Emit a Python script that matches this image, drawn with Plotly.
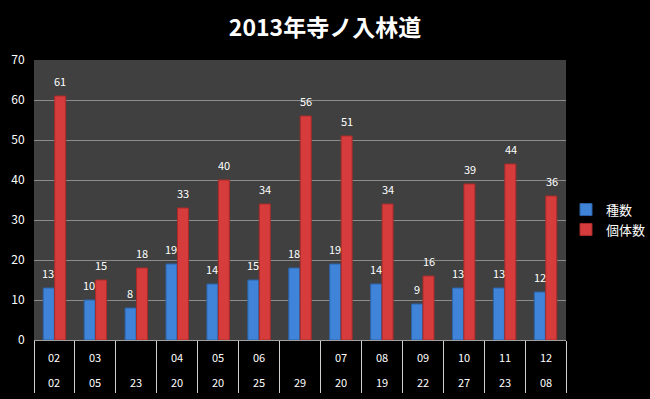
import plotly.graph_objects as go

months = ["02", "03", "", "04", "05", "06", "", "07", "08", "09", "10", "11", "12"]
days = ["02", "05", "23", "20", "20", "25", "29", "20", "19", "22", "27", "23", "08"]
species = [13, 10, 8, 19, 14, 15, 18, 19, 14, 9, 13, 13, 12]
individuals = [61, 15, 18, 33, 40, 34, 56, 51, 34, 16, 39, 44, 36]
series_names = ["種数", "個体数"]
title_text = "2013年寺ノ入林道"

cats = [f"{m}/{d}#{i}" for i, (m, d) in enumerate(zip(months, days))]

FONT = "Noto Sans CJK JP"
BLUE = "#3f84d8"
RED = "#d63c3c"

fig = go.Figure()
fig.add_trace(go.Bar(x=cats, y=species, name=series_names[0],
                     marker=dict(color=BLUE, line=dict(color="#2b62a8", width=1))))
fig.add_trace(go.Bar(x=cats, y=individuals, name=series_names[1],
                     marker=dict(color=RED, line=dict(color="#a82a2a", width=1))))

annotations = []
for c, v in zip(cats, species):
    annotations.append(dict(x=c, y=v, xref="x", yref="y", text=str(v), showarrow=False,
                            xshift=-6, yshift=5, yanchor="bottom",
                            font=dict(color="white", size=11, family=FONT)))
for c, v in zip(cats, individuals):
    annotations.append(dict(x=c, y=v, xref="x", yref="y", text=str(v), showarrow=False,
                            xshift=6, yshift=5, yanchor="bottom",
                            font=dict(color="white", size=11, family=FONT)))
for c, m in zip(cats, months):
    annotations.append(dict(x=c, y=-17 / 280, xref="x", yref="paper", text=m, showarrow=False,
                            yanchor="middle", font=dict(color="white", size=11, family=FONT)))
for c, d in zip(cats, days):
    annotations.append(dict(x=c, y=-42 / 280, xref="x", yref="paper", text=d, showarrow=False,
                            yanchor="middle", font=dict(color="white", size=11, family=FONT)))

fig.update_layout(
    width=650, height=399,
    margin=dict(l=34, r=84, t=60, b=59, autoexpand=False),
    paper_bgcolor="black",
    plot_bgcolor="#404040",
    barmode="group",
    bargap=0.44,
    bargroupgap=0.04,
    title=dict(text="<b>" + title_text + "</b>", x=0.5, xref="container", y=1 - 28 / 399,
               yanchor="middle", xanchor="center",
               font=dict(color="white", size=23, family=FONT)),
    legend=dict(x=1.0, y=0.43, xanchor="left", yanchor="middle",
                font=dict(color="white", size=13, family=FONT),
                bgcolor="rgba(0,0,0,0)", itemwidth=30, tracegroupgap=6),
    annotations=annotations,
    showlegend=True,
)
fig.update_xaxes(type="category", showticklabels=False, ticks="outside", tickson="boundaries",
                 ticklen=52, tickcolor="#d0d0d0", tickwidth=1, showline=True,
                 linecolor="#a0a0a0", showgrid=False)
fig.update_yaxes(range=[0, 70], dtick=10, showgrid=True, gridcolor="#8c8c8c", gridwidth=1,
                 zeroline=False, ticks="outside", ticklen=6, tickcolor="black",
                 tickfont=dict(color="white", size=12, family=FONT))

fig.write_html("out.html", config={"displayModeBar": False},
               post_script="document.body.style.margin='0';document.body.style.background='black';")
